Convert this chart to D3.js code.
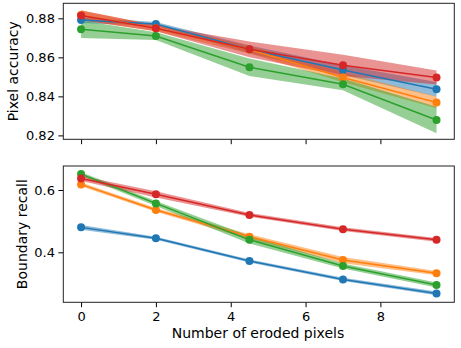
<!DOCTYPE html>
<html>
<head>
<meta charset="utf-8">
<script src="https://cdn.jsdelivr.net/npm/d3@7"></script>
<style>
body{margin:0;background:#fff}
text{font-family:"DejaVu Sans",sans-serif}
</style>
</head>
<body>
<div id="chart"></div>
<script>
var W=461,H=348
var xs=[0,2,4.5,7,9.5]
var colors=["#1f77b4","#ff7f0e","#2ca02c","#d62728"]

// pixel accuracy, one array per series, plus band half-width
var accBlue=[0.8791,0.8771,0.8641,0.8535,0.8436]
var accOrange=[0.8817,0.8749,0.8640,0.8497,0.8369]
var accGreen=[0.8744,0.8709,0.8549,0.8462,0.8279]
var accRed=[0.8815,0.8749,0.8641,0.8559,0.8497]
var accBlueErr=[0.0015,0.001,0.002,0.0025,0.0038]
var accOrangeErr=[0.0025,0.0015,0.002,0.0025,0.003]
var accGreenErr=[0.0045,0.002,0.0045,0.003,0.0068]
var accRedErr=[0.0025,0.0015,0.004,0.0054,0.0036]

// boundary recall
var recBlue=[0.480,0.445,0.372,0.313,0.268]
var recOrange=[0.618,0.536,0.450,0.375,0.333]
var recGreen=[0.651,0.557,0.440,0.356,0.295]
var recRed=[0.637,0.586,0.520,0.474,0.440]
var recBlueErr=[0.008,0.005,0.005,0.005,0.006]
var recOrangeErr=[0.006,0.006,0.008,0.01,0.007]
var recGreenErr=[0.006,0.008,0.012,0.008,0.008]
var recRedErr=[0.008,0.01,0.006,0.006,0.006]

var accTicks=[0.82,0.84,0.86,0.88]
var recTicks=[0.4,0.6]
var xTicks=[0,2,4,6,8]

var svg=d3.select("#chart").append("svg").attr("width",W).attr("height",H)

var left=63.3,right=454.3
var x=d3.scaleLinear().domain([-0.475,9.975]).range([left,right])

function panel(top,bottom,domain,ticks,fmt,series,errs,label,labelX,showX){
	var y=d3.scaleLinear().domain(domain).range([bottom,top])
	var g=svg.append("g")
	var line=d3.line().x(function(d,i){return x(xs[i])}).y(function(d){return y(d)})
	series.forEach(function(s,k){
		var area=d3.area().x(function(d,i){return x(xs[i])})
			.y0(function(d,i){return y(d-errs[k][i])})
			.y1(function(d,i){return y(d+errs[k][i])})
		g.append("path").attr("d",area(s)).attr("fill",colors[k]).attr("fill-opacity",0.5)
	})
	series.forEach(function(s,k){
		g.append("path").attr("d",line(s)).attr("fill","none").attr("stroke",colors[k]).attr("stroke-width",1.5)
		g.selectAll(null).data(s).enter().append("circle")
			.attr("cx",function(d,i){return x(xs[i])}).attr("cy",function(d){return y(d)})
			.attr("r",4).attr("fill",colors[k])
	})
	var ya=g.append("g").attr("transform","translate("+left+",0)")
		.call(d3.axisLeft(y).tickValues(ticks).tickFormat(d3.format(fmt)).tickSize(4.9).tickPadding(3.5))
	ya.select(".domain").remove()
	ya.selectAll("text").attr("font-size","13px").attr("fill","#000")
	ya.selectAll("line").attr("stroke","#000")
	var xa=g.append("g").attr("transform","translate(0,"+bottom+")")
		.call(d3.axisBottom(x).tickValues(xTicks).tickSize(4.9).tickPadding(4.5).tickFormat(showX?d3.format("d"):""))
	xa.select(".domain").remove()
	xa.selectAll("text").attr("font-size","13px").attr("fill","#000")
	xa.selectAll("line").attr("stroke","#000")
	g.append("rect").attr("x",left).attr("y",top).attr("width",right-left).attr("height",bottom-top)
		.attr("fill","none").attr("stroke","#222").attr("stroke-width",1)
	g.append("text").attr("transform","translate("+labelX+","+((top+bottom)/2)+") rotate(-90)")
		.attr("text-anchor","middle").attr("font-size","14px").text(label)
}

panel(3.3,139.3,[0.818,0.8877],accTicks,".2f",[accBlue,accOrange,accGreen,accRed],
	[accBlueErr,accOrangeErr,accGreenErr,accRedErr],"Pixel accuracy",17.5,false)
panel(166,302.3,[0.2395,0.677],recTicks,".1f",[recBlue,recOrange,recGreen,recRed],
	[recBlueErr,recOrangeErr,recGreenErr,recRedErr],"Boundary recall",26.5,true)

svg.append("text").attr("x",258).attr("y",338).attr("text-anchor","middle").attr("font-size","14px")
	.text("Number of eroded pixels")
</script>
</body>
</html>
